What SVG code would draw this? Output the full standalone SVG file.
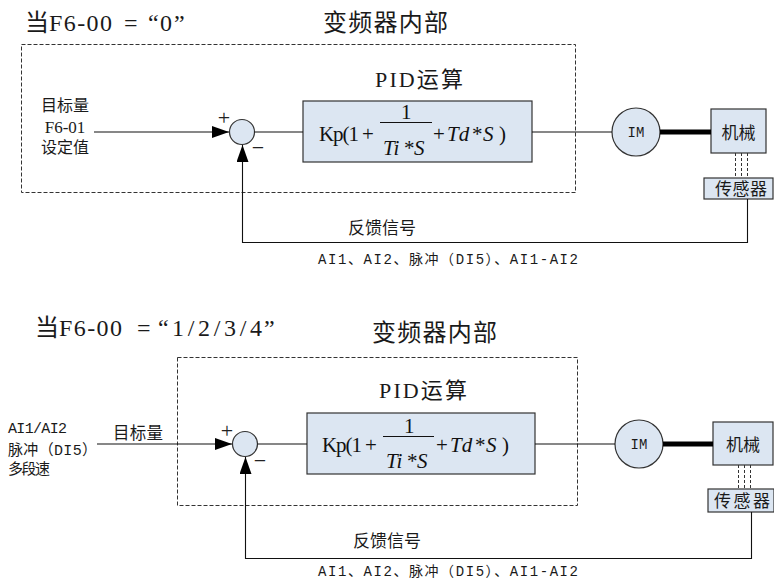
<svg xmlns="http://www.w3.org/2000/svg" width="774" height="579" viewBox="0 0 774 579">
<style>
.t{font-family:"Liberation Serif","Noto Sans CJK SC",serif;fill:#1a1a1a}
.m{font-family:"Liberation Mono","Noto Sans CJK SC",monospace;fill:#1a1a1a}
.f{font-family:"Liberation Serif",serif;fill:#111;font-size:21px}
.i{font-style:italic}
.s{font-family:"Liberation Serif",serif;fill:#222;font-size:22px}
.box{fill:#dce6f2;stroke:#333;stroke-width:1.2}
.dash{fill:none;stroke:#333;stroke-width:1;stroke-dasharray:4 2}
.ln{fill:none;stroke:#111;stroke-width:1.1}
.thick{fill:none;stroke:#000;stroke-width:5}
.sd{fill:none;stroke:#333;stroke-width:1;stroke-dasharray:3 2}
</style>
<defs>
<marker id="arr" markerUnits="userSpaceOnUse" markerWidth="18" markerHeight="14" refX="17" refY="6" orient="auto">
<path d="M0,0 L17,6 L0,12 Z" fill="#000"/>
</marker>
</defs>

<!-- Top diagram -->
<g id="top-title">
<text class="t" y="31" font-size="24"><tspan x="25">当</tspan><tspan x="49" textLength="63">F6-00</tspan><tspan x="124">=</tspan><tspan x="148">“</tspan><tspan x="160">0</tspan><tspan x="174">”</tspan></text>
<text class="t" x="323" y="31" font-size="24" textLength="125">变频器内部</text>
</g>
<rect class="dash" x="21.5" y="44.5" width="554" height="148"/>
<text class="t" x="375" y="87" font-size="22" textLength="88">PID运算</text>

<g id="top-input">
<text class="t" x="65" y="111" font-size="16" text-anchor="middle">目标量</text>
<text class="t" x="65" y="133" font-size="17" text-anchor="middle">F6-01</text>
<text class="t" x="65" y="153" font-size="16" text-anchor="middle">设定值</text>
</g>
<g id="top-sum">
<circle class="box" cx="242" cy="132" r="12.5"/>
<text class="s" x="224" y="125" text-anchor="middle">+</text>
<text class="s" x="258" y="155" text-anchor="middle">−</text>
</g>
<g id="top-pid">
<rect class="box" x="303" y="101" width="229" height="61"/>
<text class="f" x="319" y="141" textLength="40">Kp(1</text>
<text class="f" x="362" y="141">+</text>
<text class="f" x="401" y="119">1</text>
<line x1="380" y1="122.5" x2="432" y2="122.5" stroke="#111" stroke-width="1"/>
<text class="f i" x="383" y="155">Ti</text>
<text class="f" x="404" y="155">*</text>
<text class="f i" x="414" y="155">S</text>
<text class="f" x="433" y="141">+</text>
<text class="f i" x="447" y="141">Td</text>
<text class="f" x="472" y="141">*</text>
<text class="f i" x="483" y="141">S</text>
<text class="f" x="499" y="141">)</text>
</g>
<g id="top-im">
<circle class="box" cx="636" cy="132" r="24"/>
<text class="m" x="636" y="137" font-size="14" text-anchor="middle">IM</text>
</g>
<g id="top-mech">
<rect class="box" x="711" y="109" width="55" height="44"/>
<text class="t" x="738.5" y="139" font-size="17" text-anchor="middle">机械</text>
</g>
<g id="top-sensor">
<rect class="box" x="704" y="178" width="69" height="21"/>
<text class="t" x="741" y="195" font-size="17" text-anchor="middle" textLength="52">传感器</text>
</g>
<text class="t" x="348" y="234" font-size="17">反馈信号</text>
<text class="m" x="318" y="264" font-size="14" textLength="260">AI1、AI2、脉冲（DI5）、AI1-AI2</text>

<g id="top-connectors">
<line class="ln" x1="94" y1="132" x2="229" y2="132" marker-end="url(#arr)"/>
<line class="ln" x1="254.5" y1="132" x2="303" y2="132"/>
<line class="ln" x1="532" y1="132" x2="612" y2="132"/>
<line class="thick" x1="660" y1="132" x2="711" y2="132"/>
<line class="sd" x1="735.5" y1="153" x2="735.5" y2="178"/>
<line class="sd" x1="741.5" y1="153" x2="741.5" y2="178"/>
<line class="sd" x1="747.5" y1="153" x2="747.5" y2="178"/>
<polyline class="ln" points="747.5,199 747.5,242.5 242.5,242.5 242.5,145" marker-end="url(#arr)"/>
</g>

<!-- Bottom diagram -->
<g id="bottom-title">
<text class="t" y="336" font-size="24"><tspan x="35">当</tspan><tspan x="59" textLength="63">F6-00</tspan><tspan x="137">=</tspan><tspan x="158">“</tspan><tspan x="172" textLength="90">1/2/3/4</tspan><tspan x="264">”</tspan></text>
<text class="t" x="372" y="341" font-size="24" textLength="125">变频器内部</text>
</g>
<rect class="dash" x="177.5" y="357.5" width="400" height="148"/>
<text class="t" x="379" y="398" font-size="22" textLength="88">PID运算</text>

<g id="bottom-input">
<text class="m" x="8" y="433" font-size="15" textLength="59">AI1/AI2</text>
<text class="m" x="8" y="455" font-size="15" textLength="89">脉冲（DI5）</text>
<text class="t" x="8" y="474" font-size="15" textLength="42">多段速</text>
<text class="t" x="113" y="439" font-size="16.5" textLength="50">目标量</text>
</g>
<g id="bottom-sum">
<circle class="box" cx="245" cy="444" r="12.5"/>
<text class="s" x="227" y="438" text-anchor="middle">+</text>
<text class="s" x="260" y="468" text-anchor="middle">−</text>
</g>
<g id="bottom-pid">
<rect class="box" x="307" y="413" width="228" height="61"/>
<text class="f" x="322" y="452" textLength="40">Kp(1</text>
<text class="f" x="365" y="452">+</text>
<text class="f" x="404" y="433">1</text>
<line x1="383" y1="436.5" x2="434" y2="436.5" stroke="#111" stroke-width="1"/>
<text class="f i" x="386" y="468">Ti</text>
<text class="f" x="407" y="468">*</text>
<text class="f i" x="417" y="468">S</text>
<text class="f" x="436" y="452">+</text>
<text class="f i" x="450" y="452">Td</text>
<text class="f" x="475" y="452">*</text>
<text class="f i" x="486" y="452">S</text>
<text class="f" x="502" y="452">)</text>
</g>
<g id="bottom-im">
<circle class="box" cx="639" cy="444" r="24"/>
<text class="m" x="639" y="449" font-size="14" text-anchor="middle">IM</text>
</g>
<g id="bottom-mech">
<rect class="box" x="713" y="422" width="60" height="43"/>
<text class="t" x="743" y="451" font-size="17" text-anchor="middle">机械</text>
</g>
<g id="bottom-sensor">
<rect class="box" x="708" y="489" width="66" height="23"/>
<text class="t" x="742" y="507" font-size="17" text-anchor="middle" textLength="56">传感器</text>
</g>
<text class="t" x="353" y="547" font-size="17">反馈信号</text>
<text class="m" x="318" y="576" font-size="14" textLength="260">AI1、AI2、脉冲（DI5）、AI1-AI2</text>

<g id="bottom-connectors">
<line class="ln" x1="97" y1="444" x2="232" y2="444" marker-end="url(#arr)"/>
<line class="ln" x1="257.5" y1="444" x2="307" y2="444"/>
<line class="ln" x1="535" y1="444" x2="615" y2="444"/>
<line class="thick" x1="663" y1="444" x2="713" y2="444"/>
<line class="sd" x1="738.5" y1="465" x2="738.5" y2="489"/>
<line class="sd" x1="744.5" y1="465" x2="744.5" y2="489"/>
<line class="sd" x1="750.5" y1="465" x2="750.5" y2="489"/>
<polyline class="ln" points="751.5,512 751.5,558.5 245.5,558.5 245.5,457" marker-end="url(#arr)"/>
</g>
</svg>
